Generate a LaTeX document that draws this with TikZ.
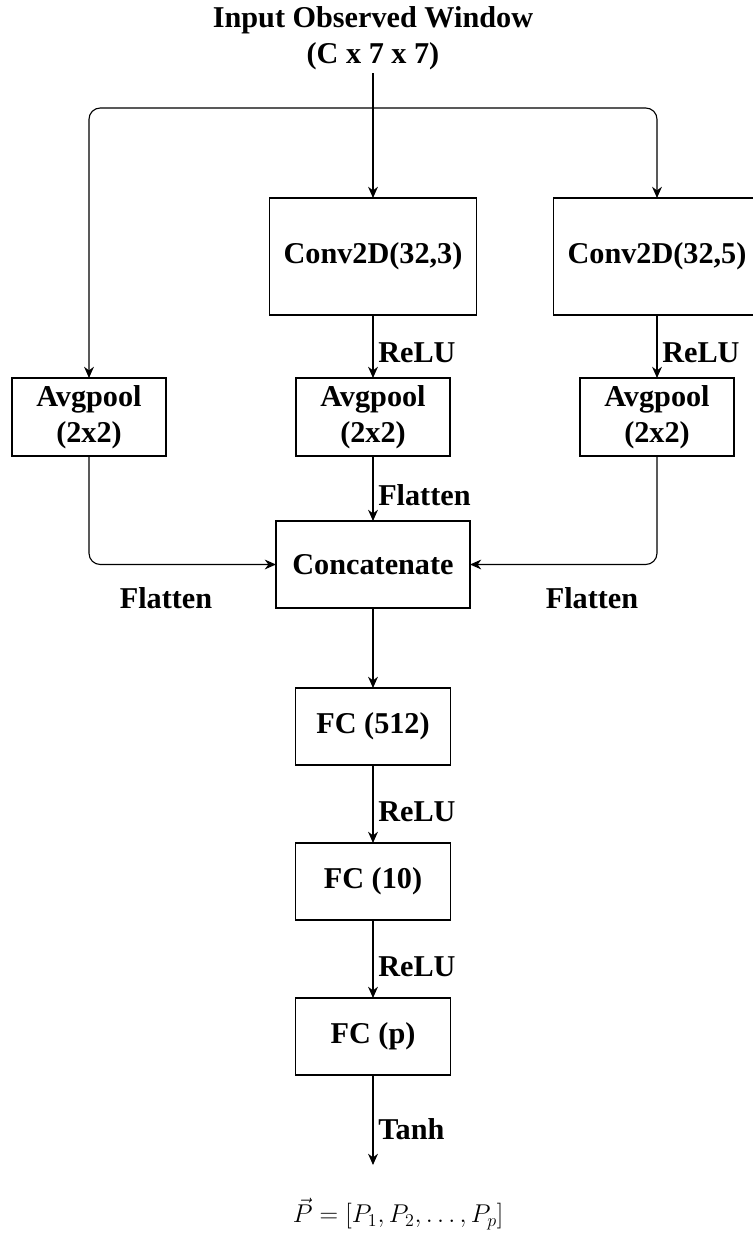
\RequirePackage{fix-cm}
\documentclass[tikz,border=0pt]{standalone}
\usepackage[no-math]{fontspec}
\setmainfont{Liberation Serif}
\usepackage{tikz}
\usetikzlibrary{arrows.meta}
\tikzset{>={Stealth[length=8pt, width=7pt]}}
\tikzset{
    block/.style={draw, inner sep=0pt, outer sep=0pt, align=center},
    convbox/.style={block, minimum width=5.175cm, minimum height=2.925cm},
    poolbox/.style={block, minimum width=3.85cm, minimum height=1.95cm},
    catbox/.style={block, minimum width=4.85cm, minimum height=2.175cm},
    fcbox/.style={block, minimum width=3.875cm, minimum height=1.925cm},
    lbl/.style={right, pos=0.6}
}

\begin{document}
\begin{tikzpicture}[x=0.025cm, y=-0.025cm, line width=0.8pt, font=\fontsize{21.5}{25.5}\selectfont\bfseries]
    \useasboundingbox (0, 0) rectangle (753, 1243);
    \node[align=center, inner sep=2pt] (title) at (373, 38) {Input Observed Window\\(C x 7 x 7)};
    % conv branches
    \node[convbox] (conv3) at (373, 256.5) {Conv2D(32,3)};
    \node[convbox] (conv5) at (657, 256.5) {Conv2D(32,5)};
    \node[poolbox] (pool1) at (89, 417) {Avgpool\\(2x2)};
    \node[poolbox] (pool2) at (373, 417) {Avgpool\\(2x2)};
    \node[poolbox] (pool3) at (657, 417) {Avgpool\\(2x2)};
    \node[catbox] (concat) at (373, 564.5) {Concatenate};
    % dense head
    \node[fcbox] (fc1) at (373, 726.5) {FC (512)};
    \node[fcbox] (fc2) at (373, 881.5) {FC (10)};
    \node[fcbox] (fc3) at (373, 1036.5) {FC (p)};
    \coordinate (split) at (373, 108);
    \coordinate (out) at (373, 1165);
    \node[font=\fontsize{18.3}{22}\selectfont] (vecP) at (398, 1214) {$\vec{P} = [P_1, P_2, \ldots, P_p]$};

    \draw[->] (title) -- (conv3);
    \draw[->, rounded corners=8pt] (split) -| (pool1);
    \draw[->, rounded corners=8pt] (split) -| (conv5);
    \draw[->] (conv3) -- node[lbl]{ReLU} (pool2);
    \draw[->] (conv5) -- node[lbl]{ReLU} (pool3);
    \draw[->] (pool2) -- node[lbl]{Flatten} (concat);
    \draw[->, rounded corners=8pt] (pool1) |- (concat);
    \draw[->, rounded corners=8pt] (pool3) |- (concat);
    \node (flatL) at (166, 598) {Flatten};
    \node (flatR) at (592, 598) {Flatten};
    \draw[->] (concat) -- (fc1);
    \draw[->] (fc1) -- node[lbl]{ReLU} (fc2);
    \draw[->] (fc2) -- node[lbl]{ReLU} (fc3);
    \draw[->] (fc3) -- node[lbl]{Tanh} (out);
\end{tikzpicture}
\end{document}
